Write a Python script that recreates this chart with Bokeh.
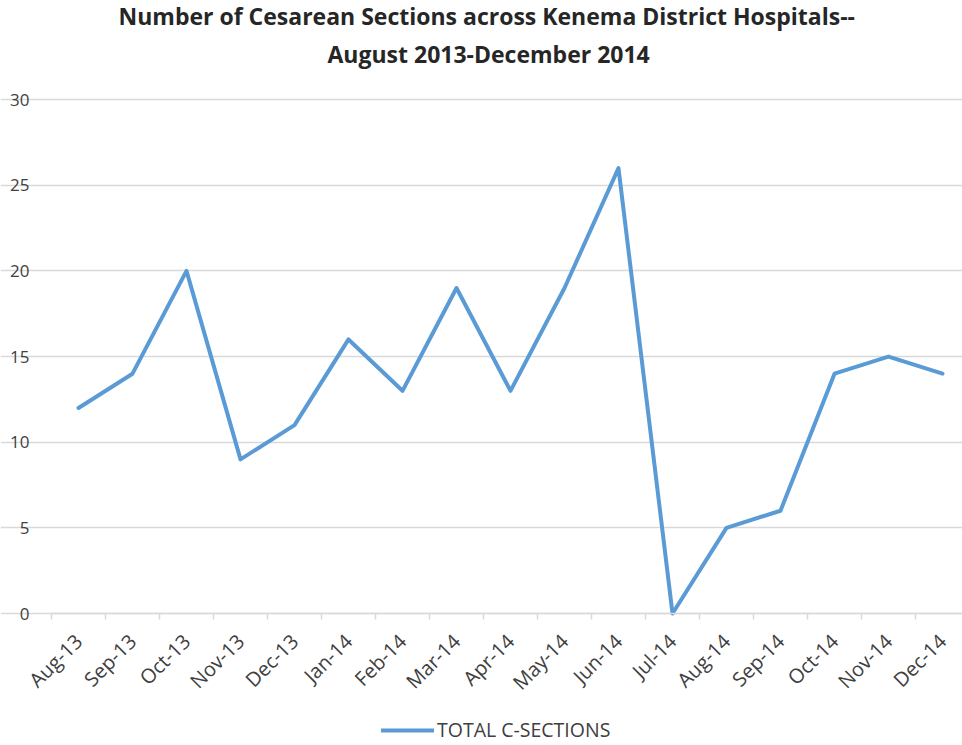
from math import pi
from bokeh.plotting import figure
from bokeh.models import Range1d, FixedTicker, Legend, LegendItem, Title, ColumnDataSource
from bokeh.embed import file_html
from bokeh.resources import INLINE

months = ["Aug-13", "Sep-13", "Oct-13", "Nov-13", "Dec-13", "Jan-14", "Feb-14",
          "Mar-14", "Apr-14", "May-14", "Jun-14", "Jul-14", "Aug-14", "Sep-14",
          "Oct-14", "Nov-14", "Dec-14"]
c_sections = [12, 14, 20, 9, 11, 16, 13, 19, 13, 19, 26, 0, 5, 6, 14, 15, 14]
y_ticks = [0, 5, 10, 15, 20, 25, 30]
title_line1 = "Number of Cesarean Sections across Kenema District Hospitals--"
title_line2 = "August 2013-December 2014"
series_name = "TOTAL C-SECTIONS"

FONT = "Open Sans"
GRID = "#D9D9D9"
TXT = "#404040"

xs = list(range(len(months)))
src = ColumnDataSource(dict(x=xs, y=c_sections, month=months))

# frame covers the whole width; plot area starts 51 px in (54 px per month)
px_per_month = 54
x_left = -0.5
x_start = x_left - 51 / px_per_month
x_end = x_start + 962 / px_per_month
# frame 663 px tall; y=0 sits 132 px above the bottom edge
px_per_unit = 531 / 31
y_start = -132 / px_per_unit

p = figure(frame_width=962, frame_height=663, output_backend="svg", toolbar_location=None,
           x_range=Range1d(x_start, x_end), y_range=Range1d(y_start, 31),
           min_border_left=0, min_border_right=0, min_border_top=82,
           min_border_bottom=0)
p.outline_line_color = None
p.background_fill_color = "white"
p.border_fill_color = "white"

r = p.line("x", "y", source=src, line_color="#5B9BD5", line_width=4,
           line_join="round", line_cap="round")

# y axis, drawn at the left edge of the plot area
p.yaxis.fixed_location = x_left
p.yaxis.ticker = FixedTicker(ticks=y_ticks)
p.yaxis.axis_line_color = None
p.yaxis.major_tick_line_color = None
p.yaxis.minor_tick_line_color = None
p.yaxis.major_tick_out = 0
p.yaxis.major_label_standoff = 22
p.yaxis.major_label_text_font = FONT
p.yaxis.major_label_text_font_size = "17px"
p.yaxis.major_label_text_color = TXT

# x axis, drawn at y = 0
p.xaxis.fixed_location = 0
p.xaxis.bounds = (x_left, x_end)
p.xaxis.ticker = FixedTicker(ticks=xs, minor_ticks=[i - 0.5 for i in range(len(months) + 1)])
p.xaxis.major_label_overrides = {i: m for i, m in enumerate(months)}
p.xaxis.major_label_orientation = pi / 4
p.xaxis.major_tick_line_color = None
p.xaxis.major_tick_out = 0
p.xaxis.major_tick_in = 0
p.xaxis.minor_tick_line_color = GRID
p.xaxis.minor_tick_line_width = 1.5
p.xaxis.minor_tick_out = 6
p.xaxis.minor_tick_in = 0
p.xaxis.axis_line_color = GRID
p.xaxis.axis_line_width = 1.5
p.xaxis.major_label_standoff = 18
p.xaxis.major_label_text_font = FONT
p.xaxis.major_label_text_font_size = "20px"
p.xaxis.major_label_text_color = TXT

p.xgrid.grid_line_color = None
p.ygrid.grid_line_color = GRID
p.ygrid.grid_line_width = 1.5
p.ygrid.bounds = (x_left, x_end)

# titles
p.title.text = title_line1
p.title.align = "left"
p.title.offset = 118
p.title.text_font = FONT
p.title.text_font_size = "23px"
p.title.text_font_style = "bold"
p.title.text_color = "#262626"
p.title.standoff = -17
p.add_layout(Title(text=title_line2, align="left", offset=327, text_font=FONT,
                   text_font_size="23px", text_font_style="bold",
                   text_color="#262626", standoff=25), "above")

legend = Legend(items=[LegendItem(label=series_name, renderers=[r])],
                orientation="horizontal", location=(381, 2),
                glyph_width=53, glyph_height=20, label_standoff=3,
                label_text_font=FONT, label_text_font_size="19.5px",
                label_text_color=TXT, border_line_color=None,
                background_fill_alpha=0, padding=0, margin=0)
p.add_layout(legend, "center")

open("out.html", "w").write(file_html(p, INLINE))
